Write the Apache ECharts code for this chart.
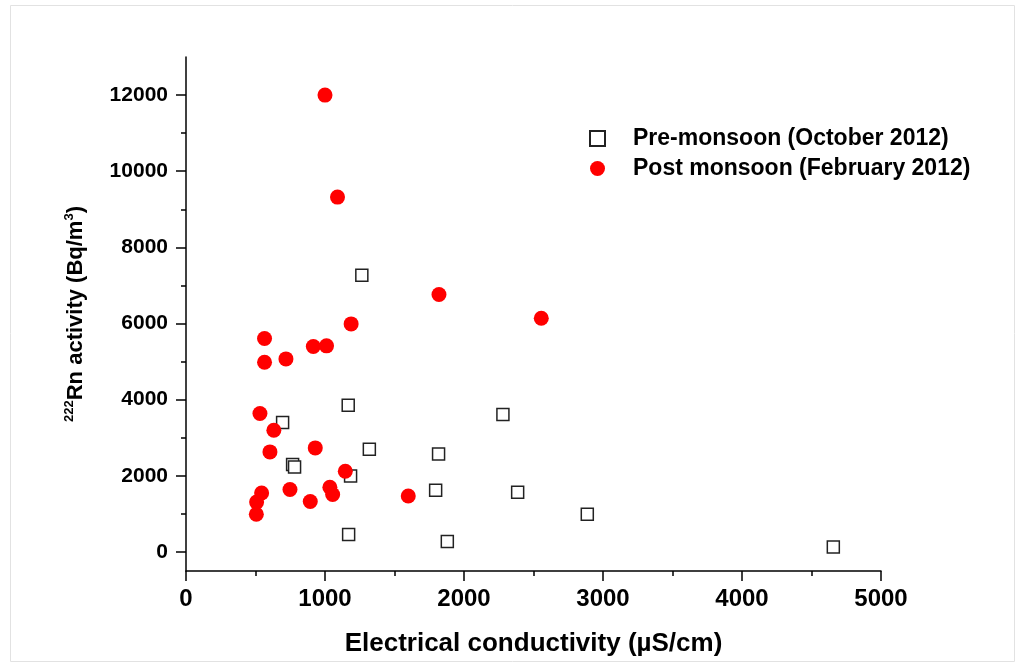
<!DOCTYPE html>
<html><head><meta charset="utf-8">
<script src="https://cdn.jsdelivr.net/npm/echarts@6/dist/echarts.min.js"></script>
<style>html,body{margin:0;padding:0;background:#fff}#c{width:1019px;height:667px}</style>
</head><body><div id="c"></div>
<script>
const seriesNames = ['Pre-monsoon (October 2012)', 'Post monsoon (February 2012)'];
const preEC = [695, 1167, 1319, 767, 781, 1184, 1170, 1265, 2280, 1817, 1796, 2386, 2887, 1880, 4657];
const preRn = [3400, 3854, 2698, 2296, 2233, 1997, 457, 7270, 3610, 2575, 1621, 1569, 990, 273, 131];
const postEC = [1000, 1090, 1820, 2556, 1188, 565, 916, 1011, 719, 565, 532, 632, 604, 930, 1146, 748, 544, 1035, 1055, 894, 508, 506, 1599];
const postRn = [12000, 9320, 6763, 6140, 5990, 5607, 5397, 5413, 5071, 4984, 3636, 3198, 2628, 2733, 2120, 1640, 1550, 1700, 1508, 1324, 1310, 990, 1471];
const yLabelValues = [0, 2000, 4000, 6000, 8000, 10000, 12000];
const yMinorValues = [1000, 3000, 5000, 7000, 9000, 11000];

const font = '"Liberation Sans", Arial, sans-serif';
const chart = echarts.init(document.getElementById('c'));
const pair = (xs, ys) => xs.map((x, i) => [x, ys[i]]);
const plain = v => String(v);
chart.setOption({
  animation: false,
  backgroundColor: '#fff',
  graphic: [{type: 'rect', shape: {x: 10.5, y: 5.5, width: 1004, height: 656}, style: {fill: 'none', stroke: '#e2e2e2', lineWidth: 1}}],
  grid: {left: 186, right: 138, top: 57, bottom: 96},
  legend: {
    orient: 'vertical', left: 584, top: 122, itemGap: 7, itemWidth: 15, itemHeight: 15,
    textStyle: {fontFamily: font, fontWeight: 'bold', fontSize: 23, color: '#000', padding: [0, 0, 0, 23]},
    data: seriesNames
  },
  xAxis: {
    type: 'value', min: 0, max: 5000, interval: 1000,
    name: 'Electrical conductivity (\u00b5S/cm)', nameLocation: 'middle', nameGap: 60,
    nameTextStyle: {fontFamily: font, fontWeight: 'bold', fontSize: 26, color: '#000'},
    axisLine: {onZero: false, lineStyle: {color: '#000', width: 1.5}},
    axisTick: {length: 10, lineStyle: {color: '#000', width: 1.5}},
    minorTick: {show: true, splitNumber: 2, length: 5, lineStyle: {color: '#000', width: 1.5}},
    axisLabel: {fontFamily: font, fontWeight: 'bold', fontSize: 24, color: '#000', margin: 16, formatter: plain},
    splitLine: {show: false}
  },
  yAxis: [{
    type: 'value', min: -500, max: 13000,
    name: '{sup|222}Rn activity (Bq/m{sup|3})', nameLocation: 'middle', nameGap: 98,
    nameTextStyle: {fontFamily: font, fontWeight: 'bold', fontSize: 22, color: '#000',
      rich: {sup: {fontFamily: font, fontWeight: 'bold', fontSize: 13, color: '#000', padding: [0, 0, 12, 0]}}},
    axisLine: {onZero: false, lineStyle: {color: '#000', width: 1.5}},
    axisTick: {length: 10, customValues: yLabelValues, lineStyle: {color: '#000', width: 1.5}},
    axisLabel: {fontFamily: font, fontWeight: 'bold', fontSize: 21, color: '#000', margin: 18, customValues: yLabelValues, formatter: plain},
    splitLine: {show: false}
  }, {
    type: 'value', min: -500, max: 13000, position: 'left',
    axisLine: {show: false},
    axisTick: {show: true, length: 5, customValues: yMinorValues, lineStyle: {color: '#000', width: 1.5}},
    axisLabel: {show: false},
    splitLine: {show: false}
  }],
  series: [{
    name: seriesNames[0], type: 'scatter', symbol: 'rect', symbolSize: 12,
    itemStyle: {color: '#fff', borderColor: '#222', borderWidth: 1.5, opacity: 1},
    data: pair(preEC, preRn)
  }, {
    name: seriesNames[1], type: 'scatter', symbol: 'circle', symbolSize: 15,
    itemStyle: {color: '#ff0000', opacity: 1},
    data: pair(postEC, postRn)
  }]
});
</script></body></html>
